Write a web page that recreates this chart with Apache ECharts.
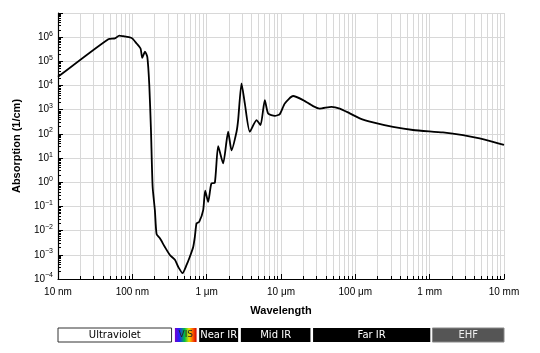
<!DOCTYPE html>
<html>
<head>
<meta charset="utf-8">
<script src="https://cdn.jsdelivr.net/npm/echarts@6/dist/echarts.min.js"></script>
<style>
  html, body { margin: 0; padding: 0; background: #fff; }
  #chart { width: 540px; height: 353px; }
</style>
</head>
<body>
<div id="chart"></div>
<script>
// absorption spectrum of water
const wavelengthNm = [
  10, 47.5, 58.4, 66.7, 75.5, 90, 99.7, 114, 129, 136, 148, 159, 169, 178,
  187.5, 201, 212, 235, 274, 320, 374, 414, 474, 537, 594, 659, 694, 731, 793,
  898, 955, 1047, 1156, 1288, 1428, 1667, 1945, 2161, 2523, 2650, 2944, 3260,
  3806, 4688, 5300, 6053, 6714, 8260, 9640, 11250, 14550, 19830, 27000, 33230,
  47750, 61700, 84100, 114600, 173000, 321000, 597000, 1.51e6, 2.81e6, 4.7e6,
  7.1e6, 1e7
];
const absorption = [
  2.3e4, 8.3e5, 8.9e5, 1.17e6, 1.1e6, 1.0e6, 8.9e5, 5.5e5, 3.4e5, 1.4e5, 2.5e5,
  1.55e5, 1.1e4, 150, 0.65, 0.071, 7.2e-3, 4.8e-3, 2.1e-3, 9.8e-4, 6.2e-4,
  3.2e-4, 1.74e-4, 3.8e-4, 8.3e-4, 2.1e-3, 5.6e-3, 0.02, 0.023, 0.071, 0.45,
  0.155, 0.89, 0.95, 31, 6, 123, 21, 123, 370, 1.23e4, 1820, 123, 370, 230,
  2500, 700, 560, 660, 1820, 3700, 2500, 1410, 1120, 1320, 1120, 710, 440, 300,
  195, 145, 115, 89, 65, 47, 35
];

// spectral bands under the plot
const bandNames = ["Ultraviolet", "VIS", "Near IR", "Mid IR", "Far IR", "EHF"];
const bandStart = [10, 374, 793, 2885, 27000, 1.09e6];
const bandEnd = [337, 731, 2650, 24900, 1.02e6, 1e7];

const xTickLabels = {
  10: "10 nm", 100: "100 nm", 1000: "1 \u03bcm", 10000: "10 \u03bcm",
  100000: "100 \u03bcm", 1000000: "1 mm", 10000000: "10 mm"
};

const bandFill = {
  "Ultraviolet": "#ffffff",
  "VIS": new echarts.graphic.LinearGradient(0, 0, 1, 0, [
    { offset: 0, color: "#7a00c8" },
    { offset: 0.2, color: "#2020ff" },
    { offset: 0.45, color: "#00c040" },
    { offset: 0.65, color: "#e8e000" },
    { offset: 0.82, color: "#ff6000" },
    { offset: 1, color: "#d00000" }
  ]),
  "Near IR": "#000000", "Mid IR": "#000000", "Far IR": "#000000", "EHF": "#555555"
};
const bandStroke = { "Ultraviolet": "#333", "EHF": "#888" };
const bandText = { "Ultraviolet": "#000", "VIS": "#222", "EHF": "#eee" };

const chart = echarts.init(document.getElementById("chart"));

const gridColor = "#d8d8d8";

chart.setOption({
  animation: false,
  textStyle: { fontFamily: "Liberation Sans, Arial, sans-serif" },
  grid: [
    { left: 58, right: 36, top: 13, bottom: 74 },
    { left: 58, right: 36, top: 328, height: 14 }
  ],
  xAxis: [
    {
      type: "log", logBase: 10, min: 10, max: 1e7, interval: 1, gridIndex: 0,
      name: "Wavelength", nameLocation: "middle", nameGap: 26,
      nameTextStyle: { fontWeight: "bold", fontSize: 11, color: "#000" },
      axisLine: { lineStyle: { color: "#000", width: 1.2 } },
      axisTick: { inside: true, length: 5, lineStyle: { color: "#000" } },
      minorTick: { show: true, splitNumber: 9, length: 3, lineStyle: { color: "#000" } },
      splitLine: { show: true, lineStyle: { color: gridColor } },
      minorSplitLine: { show: true, lineStyle: { color: gridColor } },
      axisLabel: {
        color: "#000", fontSize: 10, margin: 8,
        formatter: (v) => xTickLabels[Math.round(v)] || ""
      }
    },
    {
      type: "log", logBase: 10, min: 10, max: 1e7, gridIndex: 1, show: false
    }
  ],
  yAxis: [
    {
      type: "log", logBase: 10, min: 1e-4, max: 1e7, interval: 1, gridIndex: 0,
      name: "Absorption (1/cm)", nameLocation: "middle", nameGap: 36,
      nameTextStyle: { fontWeight: "bold", fontSize: 11, color: "#000" },
      axisLine: { show: true, lineStyle: { color: "#000", width: 1.2 } },
      axisTick: { inside: true, length: 5, lineStyle: { color: "#000" } },
      minorTick: { show: true, splitNumber: 9, length: 3, lineStyle: { color: "#000" } },
      splitLine: { show: true, lineStyle: { color: gridColor } },
      axisLabel: {
        color: "#000", fontSize: 10, margin: 5,
        formatter: (v) => {
          const e = Math.round(Math.log10(v));
          if (e === 7) return "";
          return "10{sup|" + (e < 0 ? "\u2212" + (-e) : e) + "}";
        },
        rich: {
          sup: { fontSize: 7, verticalAlign: "bottom", padding: [0, 0, 7, 0], color: "#000" }
        }
      }
    },
    { type: "value", min: 0, max: 1, gridIndex: 1, show: false }
  ],
  series: [
    {
      type: "line",
      xAxisIndex: 0, yAxisIndex: 0,
      data: wavelengthNm.map((w, i) => [w, absorption[i]]),
      showSymbol: false,
      smooth: 0.2,
      lineStyle: { color: "#000", width: 1.8 }
    },
    {
      type: "custom",
      xAxisIndex: 1, yAxisIndex: 1,
      data: bandNames.map((n, i) => [bandStart[i], bandEnd[i], i]),
      renderItem: (params, api) => {
        const i = api.value(2);
        const name = bandNames[i];
        const p0 = api.coord([api.value(0), 1]);
        const p1 = api.coord([api.value(1), 0]);
        return {
          type: "rect",
          shape: { x: p0[0], y: p0[1], width: p1[0] - p0[0], height: p1[1] - p0[1] },
          style: {
            fill: bandFill[name],
            stroke: bandStroke[name] || null,
            lineWidth: 1,
            text: name,
            textFill: bandText[name] || "#fff",
            fontSize: name === "VIS" ? 9 : 10,
            fontFamily: "DejaVu Sans, sans-serif",
            textPosition: "inside"
          }
        };
      }
    }
  ]
});
</script>
</body>
</html>
